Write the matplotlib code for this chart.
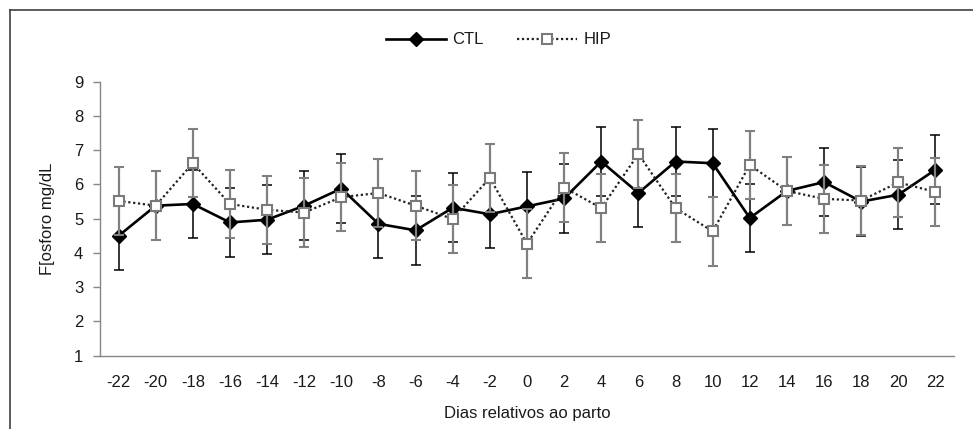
import matplotlib
matplotlib.use('Agg')
import matplotlib.pyplot as plt
from matplotlib import font_manager
from matplotlib.lines import Line2D

# dias relativos ao parto
dias = [-22, -20, -18, -16, -14, -12, -10, -8, -6, -4, -2, 0,
        2, 4, 6, 8, 10, 12, 14, 16, 18, 20, 22]
ctl = [4.50, 5.38, 5.43, 4.89, 4.97, 5.38, 5.88, 4.85, 4.66, 5.32, 5.13, 5.36,
       5.59, 6.67, 5.75, 6.67, 6.62, 5.02, 5.81, 6.07, 5.50, 5.70, 6.43]
hip = [5.52, 5.38, 6.62, 5.43, 5.26, 5.18, 5.63, 5.75, 5.38, 4.99, 6.19, 4.27,
       5.91, 5.31, 6.89, 5.31, 4.63, 6.57, 5.81, 5.58, 5.53, 6.06, 5.78]
ctl_err = [1.0, 1.0, 1.0, 1.0, 1.0, 1.0, 1.0, 1.0, 1.0, 1.0, 1.0, 1.0,
           1.0, 1.0, 1.0, 1.0, 1.0, 1.0, 1.0, 1.0, 1.0, 1.0, 1.0]
hip_err = [1.0, 1.0, 1.0, 1.0, 1.0, 1.0, 1.0, 1.0, 1.0, 1.0, 1.0, 1.0,
           1.0, 1.0, 1.0, 1.0, 1.0, 1.0, 1.0, 1.0, 1.0, 1.0, 1.0]

# narrow font if there is one
try:
    font_manager.findfont('Liberation Sans Narrow', fallback_to_default=False)
    fam = 'Liberation Sans Narrow'
except Exception:
    fam = 'Liberation Sans'
plt.rcParams['font.family'] = [fam, 'DejaVu Sans']
fs = 12
txt = '#1a1a1a'
grey = '#868686'

fig = plt.figure(figsize=(9.73, 4.29), dpi=100)
ax = fig.add_axes([100 / 973, 1 - 355.7 / 429, 854 / 973, (355.7 - 81.7) / 429])

ax.errorbar(dias, ctl, yerr=ctl_err, color='black', lw=1.9, marker='D',
            ms=7.5, mfc='black', mec='black', ecolor='black', elinewidth=1.1,
            capsize=3.3, capthick=1.1, zorder=3)
ax.errorbar(dias, hip, yerr=hip_err, color='#222222', lw=1.6, ls=(0, (1, 1.2)),
            marker='s', ms=6.5, mfc='white', mec='#7a7a7a', mew=1.5,
            ecolor='#808080', elinewidth=1.6, capsize=3.3, capthick=1.3, zorder=4)

ax.set_xlim(-23, 23)
ax.set_ylim(1, 9)
ax.set_xticks(dias)
ax.set_xticklabels([str(d) for d in dias])
ax.set_yticks(range(1, 10))
for s in ['top', 'right']:
    ax.spines[s].set_visible(False)
for s in ['left', 'bottom']:
    ax.spines[s].set_color(grey)
    ax.spines[s].set_linewidth(1.0)
ax.tick_params(axis='x', length=0, pad=14, labelsize=fs, labelcolor=txt)
ax.tick_params(axis='y', length=5, color=grey, width=1.0, pad=7,
               labelsize=fs, labelcolor=txt)

ax.set_xlabel('Dias relativos ao parto', fontsize=fs, color=txt)
ax.xaxis.set_label_coords(0.5, -(406 - 355.7) / 274)
ax.set_ylabel('F[osforo mg/dL', fontsize=fs, color=txt)
ax.yaxis.set_label_coords(-(100 - 55) / 854, 0.5)

handles = [
    Line2D([], [], color='black', lw=1.9, marker='D', ms=7, mfc='black', mec='black'),
    Line2D([], [], color='#222222', lw=1.6, ls=(0, (1, 1.2)), marker='s', ms=6.5,
           mfc='white', mec='#7a7a7a', mew=1.5),
]
fig.legend(handles, ['CTL', 'HIP'], loc='center',
           bbox_to_anchor=(0.5 + 12 / 973, 1 - 40 / 429),
           ncol=2, frameon=False, fontsize=fs, handlelength=3.6,
           handletextpad=0.4, columnspacing=2.0, labelcolor=txt)

# moldura da figura
fig.add_artist(Line2D([10 / 973, 1.0], [1 - 10 / 429, 1 - 10 / 429],
                      color='#404040', lw=1.2, transform=fig.transFigure))
fig.add_artist(Line2D([10 / 973, 10 / 973], [1 - 10 / 429, 0.0],
                      color='#404040', lw=1.2, transform=fig.transFigure))

fig.savefig('out.png', dpi=100)
